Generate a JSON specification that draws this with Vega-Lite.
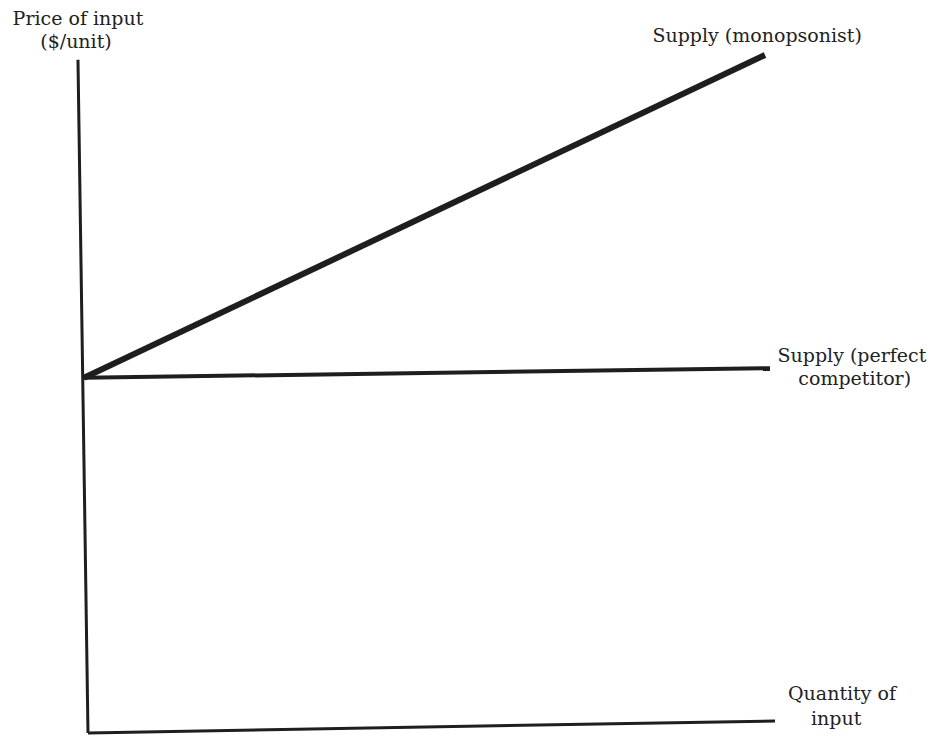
{
  "$schema": "https://vega.github.io/schema/vega-lite/v6.json",
  "width": 687,
  "height": 678,
  "autosize": {"type": "none"},
  "padding": {"left": 88, "top": 55, "right": 164, "bottom": 10},
  "background": "white",
  "config": {"view": {"stroke": null}},
  "datasets": {
    "curves": [
      {"line": "yaxis", "q": -1.46, "p": 99.3, "ord": 0},
      {"line": "yaxis", "q": 0, "p": 0, "ord": 1},
      {"line": "xaxis", "q": 0, "p": 0, "ord": 0},
      {"line": "xaxis", "q": 100, "p": 1.78, "ord": 1},
      {"line": "Supply (monopsonist)", "q": -0.58, "p": 52.4, "ord": 0},
      {"line": "Supply (monopsonist)", "q": 98.54, "p": 100, "ord": 1},
      {"line": "Supply (perfect competitor)", "q": -0.58, "p": 52.4, "ord": 0},
      {"line": "Supply (perfect competitor)", "q": 99.27, "p": 53.8, "ord": 1}
    ],
    "labels": [
      {"label": "Price of input", "q": -1.46, "p": 104.4},
      {"label": "($/unit)", "q": -1.75, "p": 101.0},
      {"label": "Supply (monopsonist)", "q": 97.4, "p": 101.9},
      {"label": "Supply (perfect", "q": 111.2, "p": 54.7},
      {"label": "competitor)", "q": 111.6, "p": 51.3},
      {"label": "Quantity of", "q": 109.75, "p": 4.87},
      {"label": "input", "q": 108.9, "p": 1.18}
    ]
  },
  "encoding": {
    "x": {"field": "q", "type": "quantitative", "scale": {"domain": [0, 100], "nice": false, "zero": false}, "axis": null},
    "y": {"field": "p", "type": "quantitative", "scale": {"domain": [0, 100], "nice": false, "zero": false}, "axis": null}
  },
  "layer": [
    {
      "data": {"name": "curves"},
      "transform": [{"filter": "datum.line === 'yaxis' || datum.line === 'xaxis'"}],
      "mark": {"type": "line", "color": "#1e1e1e", "strokeWidth": 3, "clip": false},
      "encoding": {"detail": {"field": "line"}, "order": {"field": "ord"}}
    },
    {
      "data": {"name": "curves"},
      "transform": [{"filter": "datum.line === 'Supply (monopsonist)'"}],
      "mark": {"type": "line", "color": "#1e1e1e", "strokeWidth": 6, "clip": false},
      "encoding": {"order": {"field": "ord"}}
    },
    {
      "data": {"name": "curves"},
      "transform": [{"filter": "datum.line === 'Supply (perfect competitor)'"}],
      "mark": {"type": "line", "color": "#1e1e1e", "strokeWidth": 4, "clip": false},
      "encoding": {"order": {"field": "ord"}}
    },
    {
      "data": {"name": "labels"},
      "mark": {"type": "text", "font": "DejaVu Serif", "fontSize": 19, "color": "#222222", "align": "center", "baseline": "alphabetic"},
      "encoding": {"text": {"field": "label"}}
    }
  ]
}
